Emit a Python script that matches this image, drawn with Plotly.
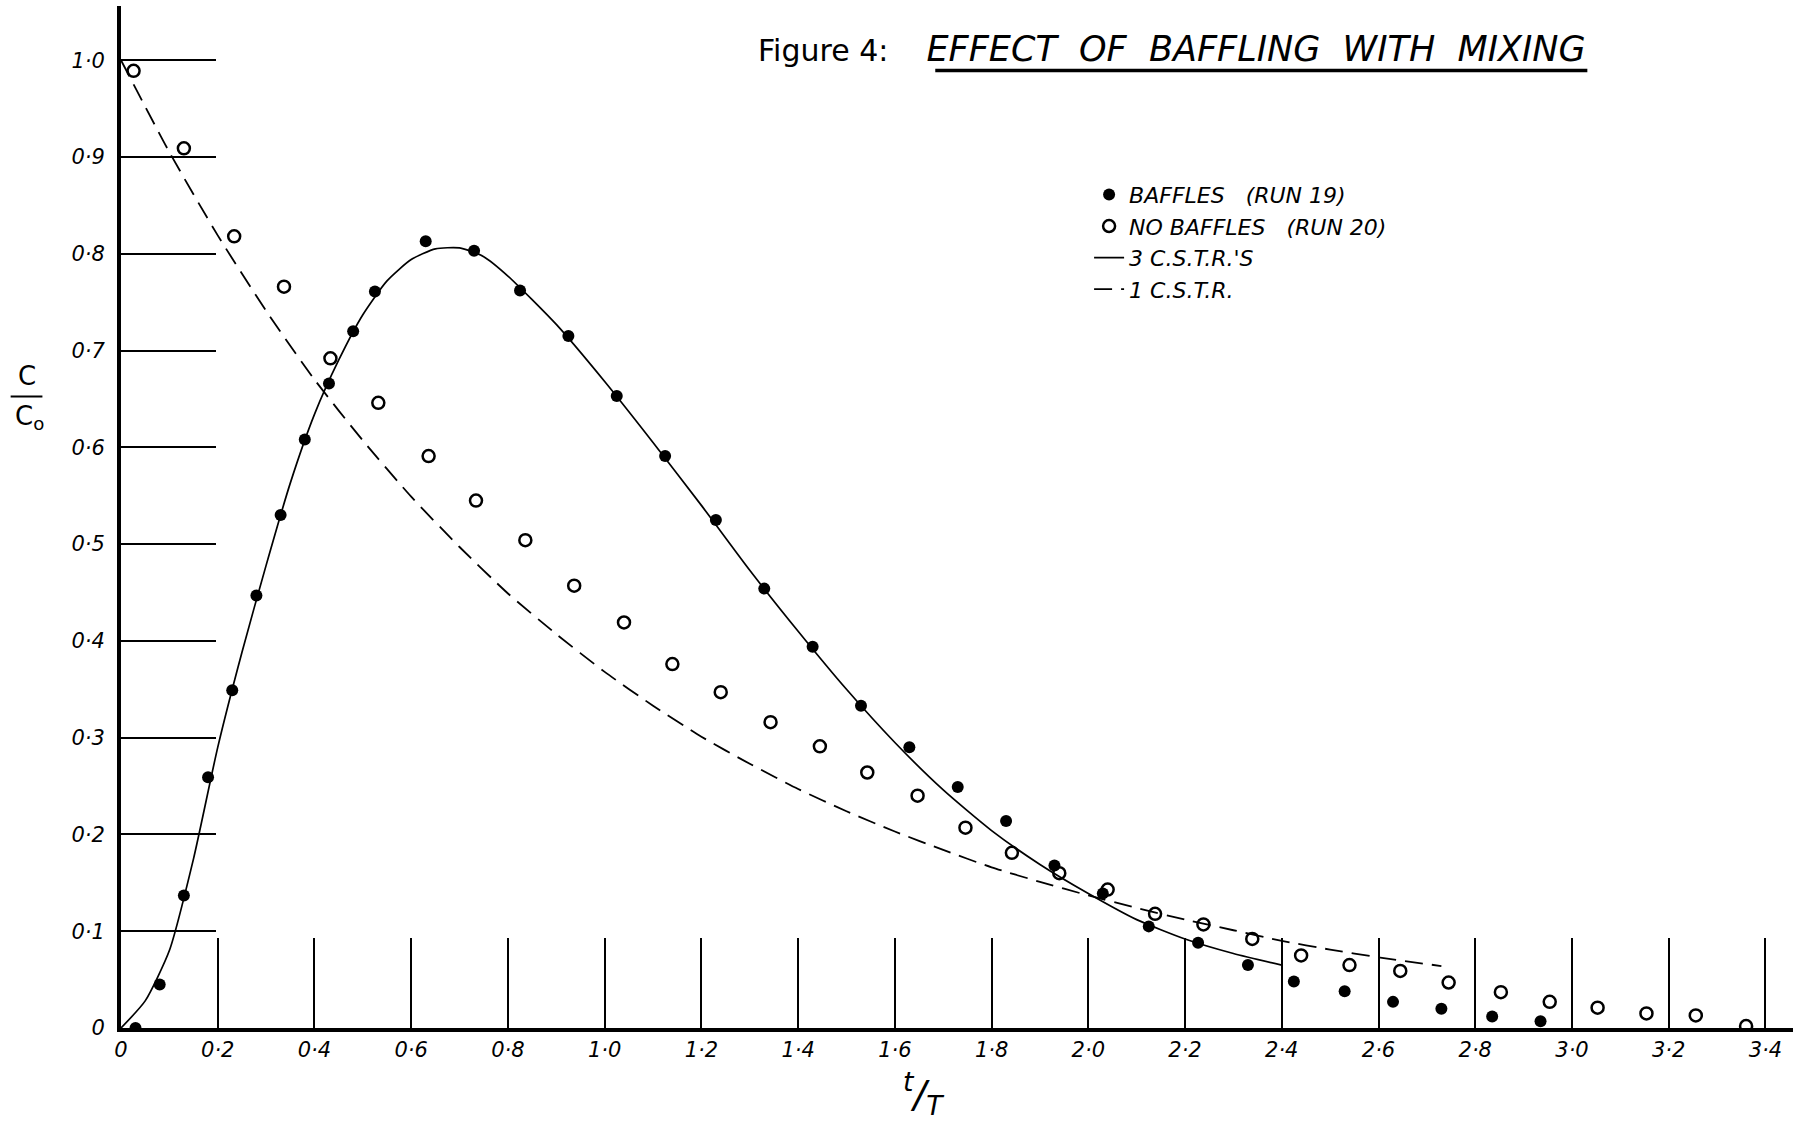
import plotly.graph_objects as go

# ---- data ----
baffles_x = [0.03, 0.08, 0.13, 0.18, 0.23, 0.28, 0.33, 0.38, 0.43, 0.48, 0.525,
             0.63, 0.73, 0.825, 0.925, 1.025, 1.125, 1.23, 1.33, 1.43, 1.53, 1.63,
             1.73, 1.83, 1.93, 2.03, 2.125, 2.227, 2.33, 2.425, 2.53, 2.63, 2.73,
             2.835, 2.935]
baffles_y = [0.0, 0.045, 0.137, 0.259, 0.349, 0.447, 0.53, 0.608, 0.666, 0.72, 0.761,
             0.813, 0.803, 0.762, 0.715, 0.653, 0.591, 0.525, 0.454, 0.394, 0.333, 0.290,
             0.249, 0.214, 0.168, 0.139, 0.105, 0.088, 0.065, 0.048, 0.038, 0.027, 0.020,
             0.012, 0.007]

no_baffles_x = [0.026, 0.13, 0.234, 0.337, 0.433, 0.532, 0.636, 0.734, 0.836, 0.937,
                1.04, 1.14, 1.24, 1.343, 1.445, 1.543, 1.647, 1.746, 1.842, 1.94,
                2.04, 2.138, 2.238, 2.339, 2.44, 2.54, 2.645, 2.745, 2.853, 2.954,
                3.053, 3.154, 3.256, 3.36]
no_baffles_y = [0.989, 0.909, 0.818, 0.766, 0.692, 0.646, 0.591, 0.545, 0.504, 0.457,
                0.419, 0.376, 0.347, 0.316, 0.291, 0.264, 0.240, 0.207, 0.181, 0.160,
                0.143, 0.118, 0.107, 0.092, 0.075, 0.065, 0.059, 0.047, 0.037, 0.027,
                0.021, 0.015, 0.013, 0.002]

cstr3_x = [0.0, 0.05, 0.1, 0.15, 0.2, 0.25, 0.3, 0.35, 0.4, 0.45, 0.5, 0.55, 0.6,
           0.65, 0.7, 0.75, 0.8, 0.9, 1.0, 1.1, 1.2, 1.3, 1.4, 1.5, 1.6, 1.7, 1.8,
           1.9, 2.0, 2.1, 2.2, 2.3, 2.4]
cstr3_y = [0.0, 0.028, 0.08, 0.175, 0.29, 0.388, 0.478, 0.563, 0.634, 0.69, 0.737,
           0.772, 0.794, 0.805, 0.806, 0.797, 0.777, 0.727, 0.668, 0.605, 0.54, 0.473,
           0.41, 0.35, 0.295, 0.246, 0.204, 0.169, 0.139, 0.112, 0.092, 0.077, 0.065]

cstr1_x = [0.0, 0.1, 0.2, 0.3, 0.4, 0.5, 0.6, 0.7, 0.8, 0.9, 1.0, 1.1, 1.2, 1.3,
           1.4, 1.5, 1.6, 1.7, 1.8, 1.9, 2.0, 2.1, 2.2, 2.3, 2.4, 2.5, 2.6, 2.73]
cstr1_y = [1.0, 0.905, 0.819, 0.741, 0.670, 0.607, 0.549, 0.497, 0.449, 0.407, 0.368,
           0.333, 0.301, 0.273, 0.247, 0.224, 0.203, 0.184, 0.166, 0.151, 0.137, 0.124,
           0.112, 0.101, 0.090, 0.081, 0.073, 0.064]

x_tickvals = [0, 0.2, 0.4, 0.6, 0.8, 1.0, 1.2, 1.4, 1.6, 1.8, 2.0, 2.2, 2.4, 2.6,
              2.8, 3.0, 3.2, 3.4]
x_ticktext = ["0", "0·2", "0·4", "0·6", "0·8", "1·0", "1·2", "1·4", "1·6", "1·8",
              "2·0", "2·2", "2·4", "2·6", "2·8", "3·0", "3·2", "3·4"]
y_tickvals = [0, 0.1, 0.2, 0.3, 0.4, 0.5, 0.6, 0.7, 0.8, 0.9, 1.0]
y_ticktext = ["0", "0·1", "0·2", "0·3", "0·4", "0·5", "0·6", "0·7", "0·8", "0·9", "1·0"]

FONT = "DejaVu Sans"
ifont = dict(family=FONT, color="black", style="italic")

fig = go.Figure()
fig.add_trace(go.Scatter(x=baffles_x, y=baffles_y, mode="markers",
                         name="BAFFLES   (RUN 19)",
                         marker=dict(symbol="circle", size=12, color="black")))
fig.add_trace(go.Scatter(x=no_baffles_x, y=no_baffles_y, mode="markers",
                         name="NO BAFFLES   (RUN 20)",
                         marker=dict(symbol="circle-open", size=12, color="black",
                                     line=dict(width=2.5, color="black"))))
fig.add_trace(go.Scatter(x=cstr3_x, y=cstr3_y, mode="lines", name="3 C.S.T.R.'S",
                         line=dict(color="black", width=1.7, shape="spline",
                                   smoothing=0.6)))
fig.add_trace(go.Scatter(x=cstr1_x, y=cstr1_y, mode="lines", name="1 C.S.T.R.",
                         line=dict(color="black", width=1.8, dash="18px,9px",
                                   shape="spline", smoothing=0.6)))

fig.update_xaxes(range=[0, 3.457], tickvals=x_tickvals, ticktext=x_ticktext,
                 ticks="inside", ticklen=90, tickwidth=1.5, tickcolor="black",
                 showline=True, linewidth=4, linecolor="black", showgrid=False,
                 zeroline=False, tickfont=dict(size=21, **ifont), ticklabelstandoff=0)
fig.update_yaxes(range=[0, 1.056], tickvals=y_tickvals, ticktext=y_ticktext,
                 ticks="inside", ticklen=95, tickwidth=1.5, tickcolor="black",
                 showline=True, linewidth=4, linecolor="black", showgrid=False,
                 zeroline=False, tickfont=dict(size=21, **ifont), ticklabelstandoff=8)

fig.update_layout(
    width=1820, height=1134,
    margin=dict(l=121, r=27, t=6, b=106),
    paper_bgcolor="white", plot_bgcolor="white",
    showlegend=True,
    legend=dict(x=0.579, y=0.836, xanchor="left", yanchor="top",
                font=dict(size=22, **ifont), bgcolor="rgba(0,0,0,0)",
                itemwidth=30, tracegroupgap=0),
    annotations=[
        dict(text="Figure 4:    <i><span style='font-size:35px'>EFFECT  OF  BAFFLING  WITH  MIXING</span></i>",
             xref="paper", yref="paper", x=0.380, y=0.958, xanchor="left",
             yanchor="middle", showarrow=False,
             font=dict(family=FONT, size=30, color="black")),
        dict(text="C", xref="paper", yref="paper", x=-0.0565, y=0.621,
             xanchor="center", yanchor="bottom", showarrow=False,
             font=dict(family=FONT, size=26, color="black")),
        dict(text="C<sub>o</sub>", xref="paper", yref="paper", x=-0.0545, y=0.615,
             xanchor="center", yanchor="top", showarrow=False,
             font=dict(family=FONT, size=26, color="black")),
        dict(text="<sup>t</sup>/<sub>T</sub>", xref="paper", yref="paper",
             x=0.48, y=-0.064, xanchor="center", yanchor="middle", showarrow=False,
             font=dict(family=FONT, size=38, color="black", style="italic")),
    ],
    shapes=[
        dict(type="line", xref="paper", yref="paper", x0=0.487, x1=0.877,
             y0=0.937, y1=0.937, line=dict(color="black", width=3.5)),
        dict(type="line", xref="paper", yref="paper", x0=-0.066, x1=-0.047,
             y0=0.618, y1=0.618, line=dict(color="black", width=2)),
    ],
)

fig.write_html("out.html", config={"displayModeBar": False},
               post_script="document.body.style.margin='0';document.body.style.overflow='hidden';")
